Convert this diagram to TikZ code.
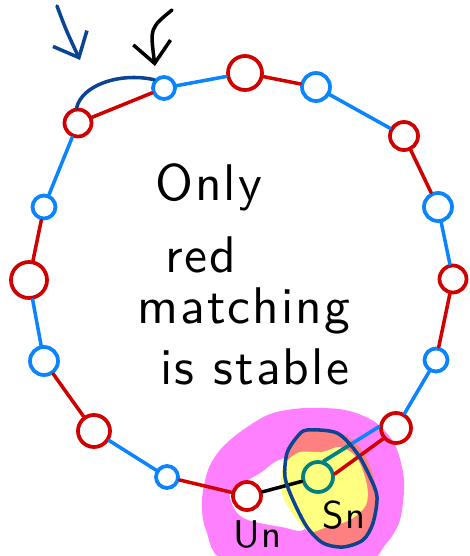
\documentclass[tikz,border=0pt]{standalone}
\usepackage{fontspec}
\usepackage{xcolor}
\usepackage{tikz}
\usetikzlibrary{arrows.meta, positioning}
\newfontfamily\handfont{lmsans10-regular.otf}[LetterSpace=4]
\definecolor{FigRed}{HTML}{D00000}
\definecolor{FigBlue}{HTML}{0A84FF}
\definecolor{FigNavy}{HTML}{0B4592}
\definecolor{FigTeal}{HTML}{00807F}
\definecolor{FigPink}{HTML}{FF80FF}
\definecolor{FigSalmon}{HTML}{FF8080}
\definecolor{FigYellow}{HTML}{FFFF80}

\begin{document}
\begin{tikzpicture}[
  x=0.03cm, y=-0.03cm,
  rnode/.style={circle, draw=FigRed, line width=3.2pt, inner sep=0pt, minimum size=0.84cm},
  bnode/.style={circle, draw=FigBlue, line width=3.2pt, inner sep=0pt, minimum size=0.84cm},
  tnode/.style={circle, draw=FigTeal, line width=3.2pt, inner sep=0pt, minimum size=0.9cm},
  redge/.style={draw=FigRed, line width=3pt, line cap=round},
  bedge/.style={draw=FigBlue, line width=3pt, line cap=round},
  tedge/.style={draw=FigTeal, line width=3pt, line cap=round},
  kedge/.style={draw=black, line width=3pt, line cap=round},
  harrow/.style={-{Straight Barb[length=18pt, width=32pt]}, line width=3pt, line cap=round},
  handtext/.style={font=\handfont\fontsize{44}{50}\selectfont, inner sep=0pt, anchor=base west},
  smalltext/.style={font=\handfont\fontsize{33}{36}\selectfont, inner sep=0pt, anchor=base west}
]
\clip (0,0) rectangle (469,556);

% highlighter blobs round s_n and u_n
\fill[FigPink] plot[smooth cycle] coordinates {(202,500) (208,470) (220,450) (240,432) (270,414) (305,408) (345,410) (375,422) (395,445) (404,480) (400,520) (385,545) (360,562) (230,562) (206,530)};
\fill[white] plot[smooth cycle] coordinates {(230,492) (245,482) (262,472) (275,462) (292,458) (305,480) (305,528) (282,527) (248,520) (235,510)};
\fill[FigSalmon] plot[smooth cycle] coordinates {(297,437) (318,430) (345,435) (365,455) (377,492) (373,525) (358,545) (333,547) (310,533) (295,510) (285,485) (285,458)};
\fill[FigYellow] plot[smooth cycle] coordinates {(286,462) (300,452) (322,452) (340,447) (357,458) (367,485) (366,505) (350,520) (327,527) (310,532) (297,520) (283,497) (281,475)};

% the ring
\node[rnode, minimum size=0.81cm] (r1) at (78,123) {};
\node[bnode, minimum size=0.66cm] (b1) at (164,88) {};
\node[rnode, minimum size=1.02cm] (r2) at (245,73) {};
\node[bnode] (b2) at (316,87) {};
\node[rnode] (r3) at (404,136) {};
\node[bnode] (b3) at (438,207) {};
\node[rnode, minimum size=0.81cm] (r4) at (453,279) {};
\node[bnode, minimum size=0.69cm] (b4) at (436,360) {};
\node[rnode, minimum size=0.9cm] (r5) at (396,428) {};
\node[tnode] (sn) at (318,477) {};
\node[rnode] (un) at (247,496) {};
\node[bnode, minimum size=0.66cm] (b6) at (167,477) {};
\node[rnode, minimum size=0.96cm] (r7) at (94,431) {};
\node[bnode] (b7) at (44,361) {};
\node[rnode, minimum size=1.08cm] (r8) at (29,280) {};
\node[bnode, minimum size=0.69cm] (b8) at (44,207) {};

\draw[redge] (r1) -- (b1);
\draw[bedge] (b1) -- (r2);
\draw[redge] (r2) -- (b2);
\draw[bedge] (b2) -- (r3);
\draw[redge] (r3) -- (b3);
\draw[bedge] (b3) -- (r4);
\draw[redge] (r4) -- (b4);
\draw[bedge] (b4) -- (r5);
\draw[redge] (r5.220) -- (sn.10);
\draw[bedge] (r5.175) -- (sn.70);
\draw[kedge] (un) -- (sn);
\draw[redge] (un) -- (b6);
\draw[bedge] (b6) -- (r7);
\draw[redge] (r7) -- (b7);
\draw[bedge] (b7) -- (r8);
\draw[redge] (r8) -- (b8);
\draw[bedge] (b8) -- (r1);
\draw[draw=FigNavy, line width=3pt, line cap=round] (r1.95) .. controls (82,85) and (120,72) .. (b1.140);

% blue line turns teal under the highlighter
\begin{scope}
\clip plot[smooth cycle] coordinates {(307,430) (337,433) (357,453) (370,477) (377,497) (373,523) (363,540) (343,547) (323,543) (307,527) (293,500) (285,477) (287,453) (297,437)};
\draw[tedge] (r5.175) -- (sn.70);
\end{scope}
\draw[FigNavy, line width=3pt] plot[smooth cycle] coordinates {(307,430) (337,433) (357,453) (370,477) (377,497) (373,523) (363,540) (343,547) (323,543) (307,527) (293,500) (285,477) (287,453) (297,437)};

% pointers from the cut-off notes
\coordinate (nstart) at (57,6);
\coordinate (ntip) at (80,60);
\coordinate (kstart) at (172,10);
\coordinate (ktip) at (155,66);
\draw[harrow, FigNavy] (nstart) .. controls (66,30) .. (ntip);
\draw[harrow, black] (kstart) .. controls (150,28) .. (ktip);

\node[handtext] (only) at (155,200) {Only};
\node[handtext] (red) at (165,272) {red};
\node[handtext] (matching) at (137,323) {matching};
\node[handtext] (stable) at (160,384) {is stable};
\node[smalltext] (snlabel) at (322,528) {Sn};
\node[smalltext] (unlabel) at (233,547) {Un};
\end{tikzpicture}
\end{document}
